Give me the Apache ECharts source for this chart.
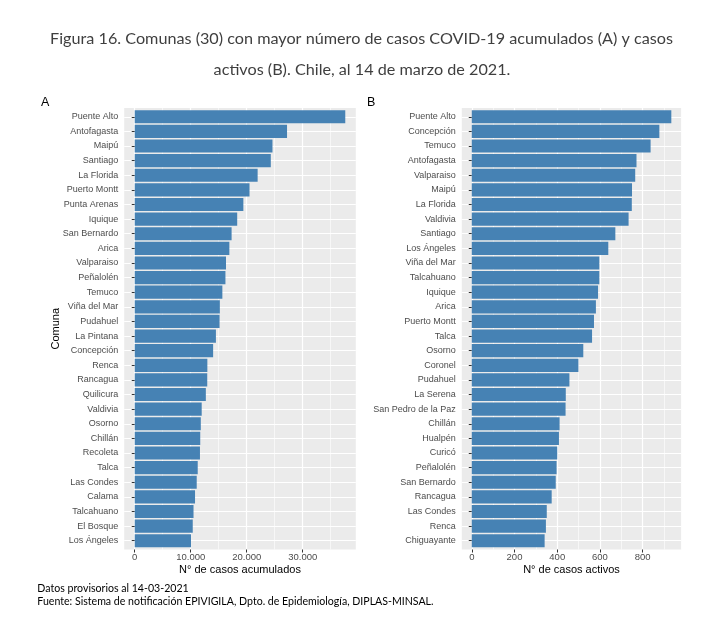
<!DOCTYPE html>
<html>
<head>
<meta charset="utf-8">
<script src="https://cdn.jsdelivr.net/npm/echarts@6/dist/echarts.min.js"></script>
<style>html,body{margin:0;padding:0;background:#fff}#c{width:728px;height:623px}</style>
</head>
<body>
<div id="c"></div>
<script>
// ---- Data ----
const comunasA = ["Puente Alto","Antofagasta","Maipú","Santiago","La Florida","Puerto Montt","Punta Arenas","Iquique","San Bernardo","Arica","Valparaiso","Peñalolén","Temuco","Viña del Mar","Pudahuel","La Pintana","Concepción","Renca","Rancagua","Quilicura","Valdivia","Osorno","Chillán","Recoleta","Talca","Las Condes","Calama","Talcahuano","El Bosque","Los Ángeles"];
const casosAcumulados = [37600,27200,24600,24300,21950,20500,19400,18300,17300,16900,16300,16200,15650,15200,15150,14500,14000,12970,12950,12700,11960,11800,11700,11650,11250,11070,10770,10500,10360,10050];
const comunasB = ["Puente Alto","Concepción","Temuco","Antofagasta","Valparaiso","Maipú","La Florida","Valdivia","Santiago","Los Ángeles","Viña del Mar","Talcahuano","Iquique","Arica","Puerto Montt","Talca","Osorno","Coronel","Pudahuel","La Serena","San Pedro de la Paz","Chillán","Hualpén","Curicó","Peñalolén","San Bernardo","Rancagua","Las Condes","Renca","Chiguayante"];
const casosActivos = [934,878,837,771,765,750,749,734,672,639,597,597,591,581,572,563,522,499,457,440,439,411,408,400,397,393,374,351,347,341];
const ticksA = [0,10000,20000,30000];
const ticksB = [0,200,400,600,800];
const titleLines = ["Figura 16. Comunas (30) con mayor número de casos COVID-19 acumulados (A) y casos","activos (B). Chile, al 14 de marzo de 2021."];
const footLines = ["Datos provisorios al 14-03-2021","Fuente: Sistema de notificación EPIVIGILA, Dpto. de Epidemiología, DIPLAS-MINSAL."];

// ---- helpers ----
const fmt = v => String(v).replace(/\B(?=(\d{3})+(?!\d))/g, '.');
const BAR = '#4682B4', PANEL = '#EBEBEB', AXT = '#4D4D4D', TICK = '#333333';
const LAB = 'Liberation Sans, Arial, sans-serif';

function panel(p) {
  const mx = Math.max(...p.vals);
  const lo = -0.05 * mx, hi = 1.05 * mx;
  const zeroLeft = p.left + p.width * (0.05 / 1.1);
  const band = p.height / (p.cats.length - 1 + 1.2);
  const dTop = p.top + 0.1 * band, dH = band * p.cats.length;
  const grids = [
    {left: p.left, top: p.top, width: p.width, height: p.height, show: true, backgroundColor: PANEL, borderWidth: 0, containLabel: false},
    {left: p.left, top: dTop, width: p.width, height: dH, containLabel: false},
    {left: zeroLeft, top: p.top, width: p.left + p.width - zeroLeft, height: p.height, containLabel: false}
  ];
  return {mx, lo, hi, grids};
}

const PA = {left: 124.2, width: 231.6, top: 108, height: 441.5, cats: comunasA, vals: casosAcumulados, ticks: ticksA, major: 10000, minor: 5000};
const PB = {left: 461.8, width: 219.5, top: 108, height: 441.5, cats: comunasB, vals: casosActivos, ticks: ticksB, major: 200, minor: 100};

const a = panel(PA), b = panel(PB);

function axesFor(P, r, gi) {
  const xs = [
    {gridIndex: gi, type: 'value', show: false},
    {gridIndex: gi + 1, type: 'value', show: false, min: r.lo, max: r.hi},
    {gridIndex: gi + 2, type: 'value', position: 'bottom', min: 0, max: r.hi, interval: P.major,
      axisLine: {show: false},
      axisTick: {show: true, length: 3, lineStyle: {color: TICK, width: 1}, customValues: P.ticks},
      axisLabel: {show: true, color: AXT, fontSize: 9.5, fontFamily: LAB, margin: 3, formatter: v => fmt(v), customValues: P.ticks},
      splitLine: {show: true, lineStyle: {color: '#FFFFFF', width: 1.2}}},
    {gridIndex: gi + 2, type: 'value', position: 'top', min: 0, max: r.hi, interval: P.minor,
      axisLine: {show: false}, axisTick: {show: false}, axisLabel: {show: false},
      splitLine: {show: true, lineStyle: {color: '#FFFFFF', width: 0.6}}}
  ];
  const ys = [
    {gridIndex: gi, type: 'value', show: false},
    {gridIndex: gi + 1, type: 'category', data: P.cats, inverse: true,
      axisLine: {show: false},
      axisTick: {show: true, alignWithLabel: true, length: 3, lineStyle: {color: TICK, width: 1}},
      axisLabel: {color: AXT, fontSize: 9, fontFamily: LAB, margin: 6, interval: 0},
      splitLine: {show: true, alignWithLabel: true, lineStyle: {color: '#FFFFFF', width: 1.2}}},
    {gridIndex: gi + 2, type: 'value', show: false}
  ];
  return {xs, ys};
}

const axA = axesFor(PA, a, 0), axB = axesFor(PB, b, 3);
const xAxes = axA.xs.concat(axB.xs);
const yAxes = axA.ys.concat(axB.ys);

function txt(text, x, y, size, color, family, align, opts) {
  return Object.assign({type: 'text', x: x, y: y, silent: true,
    style: {text: text, fontSize: size, fontFamily: family, fill: color, align: align || 'left', verticalAlign: 'middle'}}, opts || {});
}
const TF = 'Lato, Noto Sans, sans-serif';

const option = {
  animation: false,
  backgroundColor: '#FFFFFF',
  grid: a.grids.concat(b.grids),
  xAxis: xAxes,
  yAxis: yAxes,
  series: [
    {type: 'bar', xAxisIndex: 1, yAxisIndex: 1, data: casosAcumulados, barCategoryGap: '10%', itemStyle: {color: BAR}, z: 3},
    {type: 'bar', xAxisIndex: 5, yAxisIndex: 4, data: casosActivos, barCategoryGap: '10%', itemStyle: {color: BAR}, z: 3}
  ],
  graphic: [
    txt(titleLines[0], 361.5, 38.5, 16.2, '#3F3F3F', TF, 'center'),
    txt(titleLines[1], 362, 69.5, 16.2, '#3F3F3F', TF, 'center'),
    txt('A', 41, 103, 12.5, '#000', LAB, 'left'),
    txt('B', 367, 103, 12.5, '#000', LAB, 'left'),
    txt('Comuna', 56, 328.75, 11, '#000', LAB, 'center', {rotation: Math.PI / 2}),
    txt('N° de casos acumulados', 240, 569.5, 11, '#000', LAB, 'center'),
    txt('N° de casos activos', 571.5, 569.5, 11, '#000', LAB, 'center'),
    txt(footLines[0], 37.3, 588.5, 10.6, '#000', TF, 'left'),
    txt(footLines[1], 37.3, 601.5, 10.6, '#000', TF, 'left')
  ]
};
const chart = echarts.init(document.getElementById('c'), null, {renderer: 'canvas'});
chart.setOption(option);
</script>
</body>
</html>
